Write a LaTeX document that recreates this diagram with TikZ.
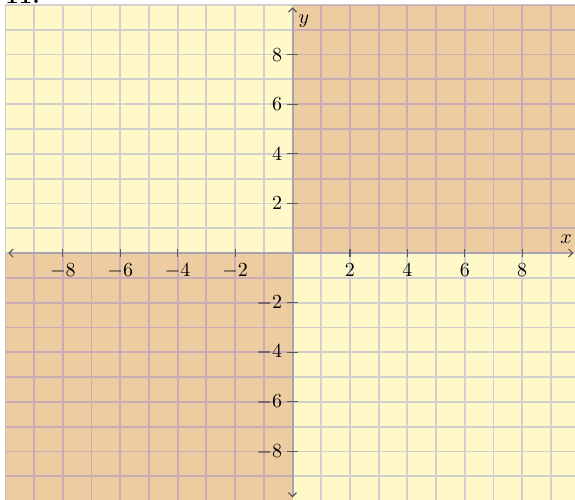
\documentclass[tikz,border=0pt]{standalone}
\usetikzlibrary{arrows.meta}
\definecolor{paleyellow}{RGB}{255,249,202}
\definecolor{quadtan}{RGB}{236,204,160}
\definecolor{gridgray}{RGB}{210,207,207}
\definecolor{gridpurple}{RGB}{202,172,180}
\definecolor{axisgray}{RGB}{168,163,176}
\tikzset{
  axis/.style={axisgray,line width=1pt,{Straight Barb[length=2pt,width=4pt,color=black!70,line width=0.5pt]}-{Straight Barb[length=2pt,width=4pt,color=black!70,line width=0.5pt]}},
  tickmark/.style={black!65,line width=0.6pt},
  ticklabel/.style={inner sep=1pt,font=\normalsize}
}
\begin{document}
\begin{tikzpicture}[x=14.35pt,y=12.4pt]
\useasboundingbox (-10.19,-9.92) rectangle (9.84,10.2);
% shaded quadrants
\fill[paleyellow] (-10,-10) rectangle (10,10);
\fill[quadtan] (0,0) rectangle (10,10);
\fill[quadtan] (-10,-10) rectangle (0,0);
% grid
\draw[gridgray,line width=0.9pt,step=1] (-10,-10) grid (10,10);
\begin{scope}
\clip (0,0) rectangle (10,10) (-10,-10) rectangle (0,0);
\draw[gridpurple,line width=0.9pt,step=1] (-10,-10) grid (10,10);
\end{scope}
% axes
\coordinate (xmin) at (-9.9,0);
\coordinate (xmax) at (9.78,0);
\coordinate (ymin) at (0,-9.85);
\coordinate (ymax) at (0,9.9);
\draw[axis] (xmin) -- (xmax);
\draw[axis] (ymin) -- (ymax);
\node (xlabel) at (9.53,0.55) {$x$};
\node (ylabel) at (0.4,9.35) {$y$};
% ticks
\foreach \i in {-8,-6,-4,-2,2,4,6,8} {
  \draw[tickmark] (\i,0) ++(0,-2.2pt) -- ++(0,4.4pt);
  \draw[tickmark] (0,\i) ++(-2.8pt,0) -- ++(5.6pt,0);
  \node[ticklabel,below=4pt] (xl\i) at (\i,0) {$\i$};
  \node[ticklabel,left=4pt] (yl\i) at (0,\i) {$\i$};
}
% problem number
\node[anchor=base west,inner sep=0pt,font=\large\bfseries] (num) at (-10.02,10.04) {11.};
\end{tikzpicture}
\end{document}
